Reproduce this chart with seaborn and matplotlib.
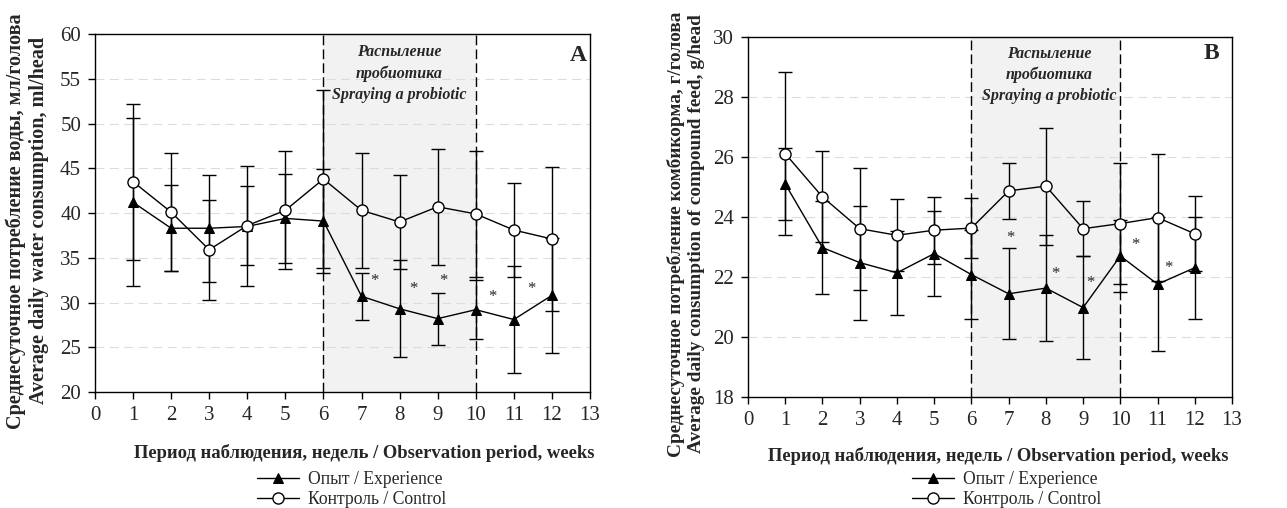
import matplotlib
matplotlib.use("Agg")
import matplotlib.pyplot as plt
import seaborn as sns
import pandas as pd

sns.set_style("ticks")
plt.rcParams["font.family"] = ["Liberation Serif", "DejaVu Serif"]

weeks = list(range(1, 13))

# panel A: water consumption, ml/head
water_exp = [41.2, 38.3, 38.3, 38.5, 39.4, 39.1, 30.7, 29.3, 28.2, 29.2, 28.1, 30.8]
water_exp_err = [9.4, 4.8, 6.0, 6.7, 5.0, 5.8, 2.6, 5.4, 2.9, 3.3, 6.0, 6.4]
water_ctrl = [43.5, 40.1, 35.9, 38.6, 40.3, 43.8, 40.3, 39.0, 40.7, 39.9, 38.1, 37.1]
water_ctrl_err = [8.7, 6.6, 5.6, 4.4, 6.6, 9.9, 6.4, 5.3, 6.5, 7.0, 5.2, 8.0]
water_stars_x = [7.35, 8.35, 9.15, 10.45, 11.45]
water_stars_y = [32.4, 31.5, 32.4, 30.6, 31.5]

# panel B: compound feed consumption, g/head
feed_exp = [25.1, 22.98, 22.48, 22.14, 22.78, 22.08, 21.44, 21.63, 20.98, 22.7, 21.76, 22.31]
feed_exp_err = [1.2, 1.56, 1.9, 1.4, 1.43, 1.47, 1.52, 1.78, 1.72, 1.2, 2.23, 1.7]
feed_ctrl = [26.11, 24.67, 23.61, 23.39, 23.56, 23.63, 24.87, 25.03, 23.61, 23.78, 23.98, 23.44]
feed_ctrl_err = [2.72, 1.52, 2.03, 1.2, 1.12, 1.0, 0.93, 1.95, 0.92, 2.02, 2.13, 1.25]
feed_stars_x = [7.05, 8.25, 9.2, 10.4, 11.3]
feed_stars_y = [23.3, 22.1, 21.8, 23.05, 22.3]

label_exp = "Опыт / Experience"
label_ctrl = "Контроль / Control"
spray_text = "Распыление\nпробиотика\nSpraying a probiotic"
xlabel = "Период наблюдения, недель / Observation period, weeks"
ylabel_a = "Среднесуточное потребление воды, мл/голова\nAverage daily water consumption, ml/head"
ylabel_b = "Среднесуточное потребление комбикорма, г/голова\nAverage daily consumption of compound feed, g/head"


def draw_panel(fig, ax, exp, exp_err, ctrl, ctrl_err, stars_x, stars_y, ylim, ystep,
               ylabel, ylab_size, ylab_xy, xlab_xy, letter, letter_xy, text_xy, leg_xy):
    ax.axvspan(6, 10, color="#f2f2f2", zorder=0, lw=0)
    for yv in range(ylim[0] + ystep, ylim[1], ystep):
        ax.axhline(yv, color="#dcdcdc", lw=0.8, ls=(0, (8, 5)), zorder=0.5)
    for xv in (6, 10):
        ax.axvline(xv, color="black", lw=1, ls=(0, (7, 3)), zorder=1)

    ax.errorbar(weeks, exp, yerr=exp_err, fmt="none", ecolor="black",
                elinewidth=1, capsize=4.7, capthick=1, zorder=2)
    ax.errorbar(weeks, ctrl, yerr=ctrl_err, fmt="none", ecolor="black",
                elinewidth=1, capsize=4.7, capthick=1, zorder=2)

    df = pd.DataFrame({"week": weeks, "exp": exp, "ctrl": ctrl})
    sns.lineplot(data=df, x="week", y="exp", ax=ax, color="black", lw=1,
                 marker="^", markersize=7, markerfacecolor="black",
                 markeredgecolor="black", label=label_exp, zorder=3)
    sns.lineplot(data=df, x="week", y="ctrl", ax=ax, color="black", lw=1,
                 marker="o", markersize=8, markerfacecolor="white",
                 markeredgecolor="black", markeredgewidth=1, label=label_ctrl, zorder=4)

    for sx, sy in zip(stars_x, stars_y):
        ax.text(sx, sy, "*", ha="center", va="center", fontsize=12, zorder=5)

    ax.text(text_xy[0], text_xy[1], spray_text, ha="center", va="center",
            fontsize=11.5, fontweight="bold", fontstyle="italic", linespacing=1.4)
    ax.text(letter_xy[0], letter_xy[1], letter, ha="center", va="center",
            fontsize=17, fontweight="bold")

    ax.set_xlim(0, 13)
    ax.set_ylim(*ylim)
    ax.set_xticks(range(0, 14))
    ax.set_yticks(range(ylim[0], ylim[1] + 1, ystep))
    ax.tick_params(labelsize=15, length=5, width=1, color="black", pad=5)
    for s in ax.spines.values():
        s.set_color("black")
        s.set_linewidth(1)
    ax.set_xlabel(xlabel, fontsize=13.4, fontweight="bold")
    ax.set_ylabel(ylabel, fontsize=ylab_size, fontweight="bold", linespacing=1.2)
    ax.xaxis.set_label_coords(*xlab_xy)
    ax.yaxis.set_label_coords(*ylab_xy)
    ax.legend(loc="upper left", bbox_to_anchor=leg_xy, bbox_transform=fig.transFigure,
              frameon=False, fontsize=12.7, handlelength=2.4, handletextpad=0.5,
              labelspacing=0.2, borderpad=0, borderaxespad=0)


fig = plt.figure(figsize=(12.87, 5.08), dpi=100)
ax_a = fig.add_axes([0.0738, 0.2283, 0.3846, 0.7047])
ax_b = fig.add_axes([0.5812, 0.2185, 0.3761, 0.7087])

draw_panel(fig, ax_a, water_exp, water_exp_err, water_ctrl, water_ctrl_err,
           water_stars_x, water_stars_y, (20, 60), 5, ylabel_a, 14.5,
           (-0.092, 0.478), (0.543, -0.145), "A",
           (12.7, 57.6), (8.0, 55.6), (0.1997, 0.073))
draw_panel(fig, ax_b, feed_exp, feed_exp_err, feed_ctrl, feed_ctrl_err,
           feed_stars_x, feed_stars_y, (18, 30), 2, ylabel_b, 13.85,
           (-0.089, 0.453), (0.516, -0.139), "B",
           (12.45, 29.44), (8.1, 28.74), (0.7086, 0.073))

fig.savefig("out.png", dpi=100)
